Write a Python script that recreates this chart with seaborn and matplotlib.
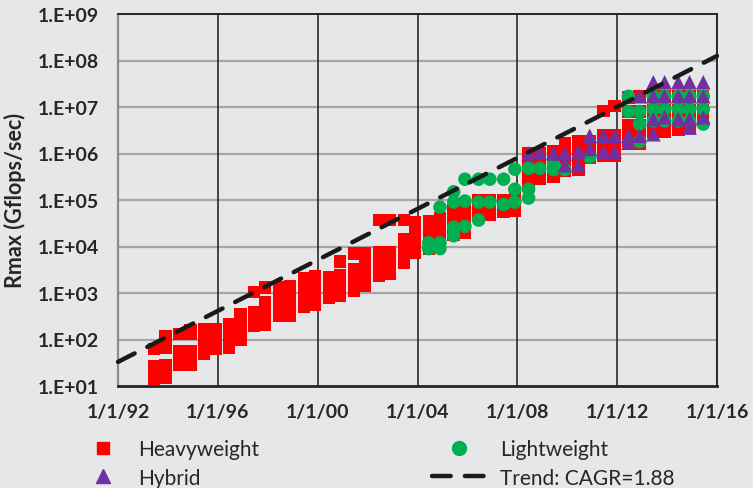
import matplotlib
matplotlib.use("Agg")
import matplotlib.pyplot as plt
import matplotlib.ticker as mticker
from matplotlib.lines import Line2D
import numpy as np
import pandas as pd
import seaborn as sns

# TOP500 list dates (June ~ .45, November ~ .9) and Rmax values
heavy_dates = [1993.45, 1993.9, 1994.45, 1994.9, 1995.45, 1995.9, 1996.45, 1996.9,
               1997.45, 1997.9, 1998.45, 1998.9, 1999.45, 1999.9, 2000.45, 2000.9,
               2001.45, 2001.9, 2002.45, 2002.9, 2003.45, 2003.9, 2004.45, 2004.9,
               2005.45, 2005.9, 2006.45, 2006.9, 2007.45, 2007.9, 2008.45, 2008.9,
               2009.45, 2009.9, 2010.45, 2010.9, 2011.45, 2011.9, 2012.45, 2012.9,
               2013.45, 2013.9, 2014.45, 2014.9, 2015.45]
heavy_vals = [
    [62, 27, 20, 14],
    [120, 65, 28, 20, 15],
    [130, 55, 40, 28],
    [160, 130, 55, 40, 28],
    [170, 120, 85, 60, 50],
    [170, 120, 85, 62],
    [215, 150, 110, 80, 66],
    [355, 250, 170, 120, 97],
    [1050, 380, 280, 200],
    [1300, 620, 420, 300, 210],
    [1300, 900, 600, 420, 320],
    [1400, 950, 650, 450, 330],
    [2100, 1400, 900, 600, 500],
    [2300, 1500, 1000, 700, 560],
    [2200, 1500, 1000, 800],
    [4800, 2400, 1600, 1100, 850],
    [7000, 3300, 2200, 1500, 1100],
    [7000, 4500, 3000, 2000, 1400],
    [37000, 7500, 5000, 3500, 2300],
    [37000, 7500, 5000, 3500, 2600],
    [37000, 14000, 9000, 6500, 4500],
    [34000, 22000, 14000, 9500, 7300],
    [35000, 20000, 14000, 11000, 9000],
    [40000, 25000, 16000, 11000],
    [60000, 40000, 27000, 18000],
    [60000, 40000, 28000, 20000],
    [100000, 70000, 48000],
    [100000, 70000, 48000],
    [100000, 70000, 55000],
    [120000, 80000, 60000],
    [1000000, 600000, 400000, 250000, 200000],
    [1000000, 600000, 400000, 280000],
    [1100000, 700000, 450000, 320000],
    [1700000, 1000000, 650000, 430000],
    [1800000, 1100000, 700000, 450000],
    [1800000, 1100000, 800000],
    [8100000, 2500000, 1500000, 900000],
    [10500000, 2500000, 1500000, 900000],
    [16000000, 8000000, 4000000, 2600000, 1900000],
    [17000000, 8000000, 4000000, 2800000, 1600000],
    [17000000, 8500000, 5000000, 3000000],
    [17000000, 8500000, 5000000, 3000000],
    [17000000, 8500000, 5500000, 3300000],
    [17000000, 8500000, 5500000, 3600000],
    [17000000, 8500000, 5500000],
]

light_dates = [2004.45, 2004.9, 2005.45, 2005.9, 2006.45, 2006.9, 2007.45, 2007.9,
               2008.45, 2008.9, 2009.45, 2009.9, 2010.9, 2012.45, 2012.9,
               2013.45, 2013.9, 2014.45, 2014.9, 2015.45]
light_vals = [
    [12000, 9000],
    [70000, 12000, 9000],
    [150000, 90000, 26000, 17000],
    [280000, 95000, 27000],
    [280000, 90000, 37000],
    [280000, 90000],
    [280000, 80000],
    [460000, 170000, 90000],
    [480000, 170000, 110000],
    [480000],
    [600000, 450000],
    [450000],
    [840000],
    [17000000, 8000000],
    [8000000, 4300000, 1800000],
    [17000000, 9000000, 5000000],
    [17000000, 9000000, 5000000],
    [17000000, 9000000, 5000000],
    [17000000, 9000000, 5000000],
    [17000000, 9000000, 4300000],
]

hybrid_dates = [2008.45, 2008.9, 2009.45, 2009.9, 2010.45, 2010.9, 2011.45, 2011.9,
                2012.45, 2012.9, 2013.45, 2013.9, 2014.45, 2014.9, 2015.45]
hybrid_vals = [
    [1000000],
    [1050000],
    [1000000],
    [1000000, 560000],
    [1100000, 560000],
    [2400000, 1250000],
    [2400000, 1100000],
    [2400000, 1100000],
    [2400000, 1700000],
    [17000000, 2400000],
    [34000000, 17000000, 5500000, 2600000],
    [34000000, 17000000, 6000000],
    [34000000, 17000000, 5500000],
    [34000000, 17000000, 5500000, 3600000],
    [34000000, 17000000, 6000000],
]

trend_start = 33.0   # Rmax at 1/1/92 on the trend line
cagr = 1.88
trend_years = np.array([1992.0, 2016.0])

year_ticks = [1992, 1996, 2000, 2004, 2008, 2012, 2016]
year_labels = ["1/1/92", "1/1/96", "1/1/00", "1/1/04", "1/1/08", "1/1/12", "1/1/16"]


def to_frame(dates, vals, name):
    rows = []
    for d, vs in zip(dates, vals):
        for v in vs:
            rows.append((d, v, name))
    return pd.DataFrame(rows, columns=["date", "rmax", "class"])


df = pd.concat([to_frame(heavy_dates, heavy_vals, "Heavyweight"),
                to_frame(light_dates, light_vals, "Lightweight"),
                to_frame(hybrid_dates, hybrid_vals, "Hybrid")], ignore_index=True)

bg = "#E6E7E9"
red = "#FF0000"
green = "#00B050"
purple = "#7030A0"
txt = "#262626"

sns.set_theme(style="white")
plt.rcParams["font.family"] = ["Lato", "DejaVu Sans"]

fig = plt.figure(figsize=(7.53, 4.89), dpi=100, facecolor=bg)
ax = fig.add_axes([118 / 753, 1 - 387 / 489, 599 / 753, 372 / 489])
ax.set_facecolor(bg)

ax.set_yscale("log")
ax.set_xlim(1992, 2016)
ax.set_ylim(10, 1e9)

# grid
for y in [1e2, 1e3, 1e4, 1e5, 1e6, 1e7, 1e8]:
    ax.axhline(y, color="#A6A6A6", lw=1.6, zorder=1)
for x in year_ticks[1:-1]:
    ax.axvline(x, color="#1a1a1a", lw=1.1, zorder=1)

sns.scatterplot(data=df[df["class"] == "Heavyweight"], x="date", y="rmax", ax=ax,
                marker="s", s=80, color=red, edgecolor="none", linewidth=0,
                legend=False, zorder=3)
sns.scatterplot(data=df[df["class"] == "Lightweight"], x="date", y="rmax", ax=ax,
                marker="o", s=95, color=green, edgecolor="none", linewidth=0,
                legend=False, zorder=4)
sns.scatterplot(data=df[df["class"] == "Hybrid"], x="date", y="rmax", ax=ax,
                marker="^", s=110, color=purple, edgecolor="none", linewidth=0,
                legend=False, zorder=5)

trend_vals = trend_start * cagr ** (trend_years - 1992)
sns.lineplot(x=trend_years, y=trend_vals, ax=ax, color="#1a1a1a", lw=3.2,
             dashes=False, zorder=6)
ax.lines[-1].set_linestyle((0, (4.2, 3.2)))
ax.lines[-1].set_dash_capstyle("round")
ax.lines[-1].set_clip_on(False)

ax.set_xticks(year_ticks)
ax.set_xticklabels(year_labels)
ax.yaxis.set_major_locator(mticker.LogLocator(base=10, numticks=20))
ax.yaxis.set_minor_locator(mticker.NullLocator())
ax.yaxis.set_major_formatter(mticker.FuncFormatter(lambda v, p: "1.E+%02d" % round(np.log10(v))))

ax.tick_params(axis="x", direction="out", length=6, width=1.3, color="#1a1a1a",
               pad=6, labelsize=14, labelcolor=txt)
ax.tick_params(axis="y", direction="out", length=6, width=1.3, color="#8C8C8C",
               pad=8, labelsize=14, labelcolor=txt)
for lab in ax.get_xticklabels() + ax.get_yticklabels():
    lab.set_fontweight("bold")

for side in ["top", "right", "bottom"]:
    ax.spines[side].set_color(txt)
    ax.spines[side].set_linewidth(1.4)
ax.spines["bottom"].set_linewidth(2.0)
ax.spines["left"].set_color("#8C8C8C")
ax.spines["left"].set_linewidth(1.6)

ax.set_xlabel("")
ax.set_ylabel("Rmax (Gflops/sec)", fontsize=15.5, fontweight="bold", color=txt)
ax.yaxis.set_label_coords(-92 / 599, 0.5)

h_heavy = Line2D([], [], marker="s", color=red, ls="none", markersize=9)
h_hyb = Line2D([], [], marker="^", color=purple, ls="none", markersize=10)
h_light = Line2D([], [], marker="o", color=green, ls="none", markersize=10)
h_trend = Line2D([], [], color="#1a1a1a", lw=3.2, ls=(0, (4.2, 3.2)), dash_capstyle="round")

leg1 = fig.legend([h_heavy, h_hyb], ["Heavyweight", "Hybrid"], loc="upper left",
                  bbox_to_anchor=(90 / 753, 1 - 440 / 489), frameon=False,
                  fontsize=15, handlelength=1.2, handletextpad=1.1, labelspacing=0.42,
                  borderpad=0, borderaxespad=0)
leg2 = fig.legend([h_light, h_trend], ["Lightweight", "Trend: CAGR=1.88"], loc="upper left",
                  bbox_to_anchor=(432 / 753, 1 - 440 / 489), frameon=False,
                  fontsize=15, handlelength=2.6, handletextpad=0.65, labelspacing=0.42,
                  borderpad=0, borderaxespad=0)
for leg in (leg1, leg2):
    for t in leg.get_texts():
        t.set_color(txt)

fig.savefig("out.png", dpi=100, facecolor=bg)
